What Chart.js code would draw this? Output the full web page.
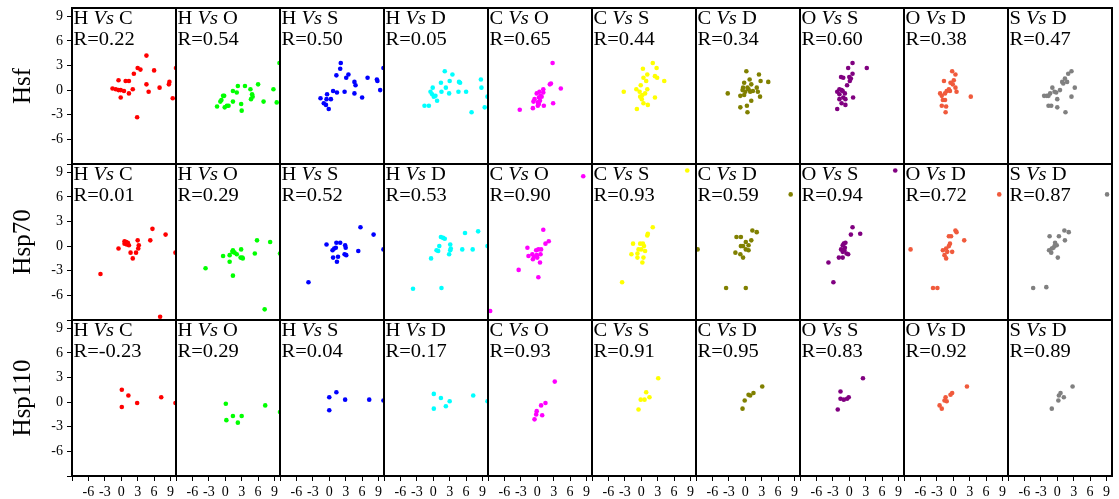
<!DOCTYPE html>
<html>
<head>
<meta charset="utf-8">
<title>Correlações Hsf / Hsp70 / Hsp110</title>
<script src="https://cdn.jsdelivr.net/npm/chart.js@4.4.0/dist/chart.umd.min.js"></script>
<style>
  html, body { margin: 0; padding: 0; background: #fff; }
  #fig { position: relative; width: 1119px; height: 499px; overflow: hidden; background: #fff; }
  #fig canvas { position: absolute; }
</style>
</head>
<body>
<div id="fig"></div>
<script>
// linhas e colunas
const rowLabels = ['Hsf', 'Hsp70', 'Hsp110'];
const pairs = [['H','C'], ['H','O'], ['H','S'], ['H','D'], ['C','O'], ['C','S'], ['C','D'], ['O','S'], ['O','D'], ['S','D']];
const colors = ['#ff0000', '#00ff00', '#0000ff', '#00ffff', '#ff00ff', '#ffff00', '#808000', '#800080', '#f05a3c', '#808080'];

// coeficientes R
const rHsf    = ['0.22', '0.54', '0.50', '0.05', '0.65', '0.44', '0.34', '0.60', '0.38', '0.47'];
const rHsp70  = ['0.01', '0.29', '0.52', '0.53', '0.90', '0.93', '0.59', '0.94', '0.72', '0.87'];
const rHsp110 = ['-0.23', '0.29', '0.04', '0.17', '0.93', '0.91', '0.95', '0.83', '0.92', '0.89'];

// Hsf
const hsf_HC = [[-1.6,0.2],[-1.0,0.1],[-0.5,0],[-0.1,0],[0.5,-0.1],[-0.1,-0.9],[-0.5,1.2],[0.8,1.1],[1.4,1.1],[1.4,-0.4],[2.1,0.1],[2.3,2.0],[3.0,2.7],[3.5,2.5],[4.6,4.2],[6.0,2.4],[4.6,0.7],[5.0,-0.2],[2.9,-3.3],[7.0,0.3],[8.7,0.7],[8.8,1.0],[9.4,-1.0],[10.0,2.7]];
const hsf_HO = [[-1.5,-2.0],[-0.9,-1.4],[-0.7,-1.2],[-0.4,-0.7],[-0.2,-0.7],[-0.1,-2.1],[0.3,-1.9],[0.6,-1.9],[1.4,-0.1],[1.4,-1.4],[2.1,-0.3],[2.3,0.5],[2.9,-1.7],[3.0,-2.5],[3.6,0.5],[4.6,0.1],[4.7,-1.1],[4.9,-0.5],[5.0,-0.8],[6.0,0.7],[7.0,-1.4],[8.8,0.1],[9.4,-1.5],[9.9,3.3]];
const hsf_HS = [[2.1,3.3],[2.0,2.6],[1.3,1.8],[3.1,1.5],[3.5,1.9],[4.6,1.0],[4.8,0.6],[2.8,-0.2],[1.4,-0.3],[0.7,-0.1],[-0.4,-0.5],[-1.6,-1.0],[-0.5,-1.1],[0.3,-1.1],[-1.0,-1.6],[-0.6,-1.8],[-0.1,-2.3],[4.6,-0.4],[6.0,-0.9],[7.0,1.5],[8.7,1.3],[8.8,1.1],[9.3,0],[9.9,2.7]];
const hsf_HD = [[2.1,2.3],[3.5,1.9],[1.4,0.9],[3.0,1.1],[2.3,0.3],[4.7,1.0],[4.9,0.9],[-0.1,0.3],[-0.5,-0.2],[-0.2,-0.5],[0.4,-0.7],[0.1,-0.8],[0.7,-1.3],[1.5,-0.2],[2.9,-0.4],[4.6,-0.2],[6.0,-0.2],[-1.6,-1.9],[-0.8,-1.9],[7.0,-2.7],[8.7,1.3],[8.8,0.3],[9.4,-2.1],[9.9,-0.8]];
const hsf_CO = [[2.8,3.3],[2.3,0.7],[2.5,0.8],[4.3,0.2],[2.9,-1.6],[1.2,-1.9],[-3.2,-2.4],[-0.8,-2.2],[0.1,-1.9],[0.3,-1.7],[0.5,-1.3],[0.8,-0.8],[1.1,-0.3],[1.1,0.1],[0.4,-0.2],[-0.1,-0.4],[-0.5,-1.1],[0.1,-1.5],[0.3,-0.9],[0.6,-0.7],[-0.7,-1.4]];
const hsf_CS = [[2.1,3.3],[0.3,2.6],[2.8,2.7],[1.1,1.9],[0.4,1.5],[2.5,1.7],[2.9,1.5],[0.9,1.1],[4.2,1.1],[-0.1,0.6],[-3.2,-0.2],[-0.9,0.1],[-0.3,-0.2],[1.1,0.1],[0.7,-0.4],[0.2,-0.6],[0.1,-1.1],[0.4,-1.6],[1.2,-1.8],[-0.8,-2.3],[2.5,-0.9],[-0.2,-0.8]];
const hsf_CD = [[0.2,2.3],[2.5,1.9],[2.8,1.1],[4.2,1.0],[0.8,1.3],[-0.2,0.9],[1.1,0.7],[-0.4,0.3],[0.4,0.3],[0.9,-0.2],[1.4,-0.1],[2.1,0.3],[2.3,-0.2],[0,-0.2],[-0.2,-0.6],[-0.9,-0.7],[2.7,-0.8],[-3.2,-0.4],[1.1,-1.3],[0.3,-1.9],[-0.9,-2.1],[0.4,-2.7],[0.6,0.1],[-0.5,0]];
const hsf_OS = [[0.6,3.3],[-0.2,2.7],[0.6,2.0],[0,1.6],[0.3,1.4],[-1.5,1.6],[-1.1,1.5],[0.1,1.1],[-0.4,0.6],[-1.8,0.1],[-1.4,0],[-1.2,-0.1],[-0.8,-0.4],[-2.2,-0.2],[-1.8,-0.5],[-1.1,-0.9],[-1.8,-1.1],[-0.7,-1.1],[-1.4,-1.6],[-0.7,-1.8],[-2.2,-2.3],[0.7,-0.9],[3.2,2.7]];
const hsf_OD = [[-0.2,2.3],[0.4,1.9],[-1.7,1.1],[-0.5,0.9],[0.1,1.2],[-0.1,0.7],[0.4,0.3],[0.6,-0.2],[-0.6,-0.1],[-1.2,-0.1],[-1.5,-0.4],[-2.4,-0.4],[-2.1,-0.7],[-1.9,-1.2],[-1.5,-1.2],[-2.1,-1.9],[-1.3,-2.0],[-1.4,-2.7],[3.2,-0.8],[-0.8,0.1]];
const hsf_SD = [[2.6,2.3],[2.0,2.0],[1.4,1.4],[0.9,1.0],[1.8,1.0],[1.1,0.8],[3.2,0.3],[2.6,-0.8],[-0.9,0.3],[-0.5,-0.2],[-1.3,-0.4],[-2.4,-0.7],[-1.6,-0.7],[-1.9,-0.7],[0,-1.1],[-1.6,-1.9],[-1.1,-1.9],[0,-2.1],[1.5,-2.7],[0.5,0],[-0.2,-0.3]];

// Hsp70
const hsp70_HC = [[-3.8,-3.4],[-0.5,-0.3],[0.6,0.6],[0.9,0.5],[1.2,0.4],[0.6,0.3],[1.0,0.2],[1.4,0.1],[1.7,-0.8],[2.1,-1.5],[2.7,-0.8],[3.0,0.7],[3.2,0.1],[3.1,-0.3],[5.3,0.7],[5.7,2.1],[8.1,1.4],[9.9,-0.8],[7.1,-8.6]];
const hsp70_HO = [[-3.6,-2.7],[-0.4,-1.2],[0.8,-1.1],[0.8,-1.9],[1.4,-0.5],[1.4,-3.6],[1.7,-0.8],[2.1,-1.0],[1.3,-0.7],[2.9,-0.4],[3.1,-1.4],[3.2,-1.5],[2.8,-1.4],[5.4,-0.9],[5.8,0.7],[8.2,0.5],[10.0,-0.9],[7.2,-7.7]];
const hsp70_HS = [[-3.8,-4.4],[-0.5,0.2],[1.3,0.4],[2.0,0.4],[0.9,-0.3],[0.6,-0.5],[1.2,-0.2],[2.9,0.1],[3.0,-0.2],[2.8,-1.0],[3.1,-1.1],[0.7,-1.4],[1.6,-1.3],[1.4,-1.9],[5.3,-0.6],[5.7,2.3],[8.1,1.4],[9.9,-0.4]];
const hsp70_HD = [[-3.7,-5.2],[1.5,-5.1],[-0.4,-1.5],[0.6,-0.5],[0.9,-0.6],[1.1,0],[1.4,1.1],[1.8,1.0],[2.1,0.9],[3.1,0.2],[3.2,-0.3],[2.9,-1.0],[3.1,-0.5],[5.3,-0.4],[5.8,1.6],[7.2,-0.4],[8.2,1.8],[9.9,0]];
const hsp70_CO = [[-8.6,-7.9],[8.4,8.5],[1.1,2.0],[2.1,0.6],[1.5,0.3],[-1.8,-0.2],[-1.6,-1.2],[-0.9,-1.0],[-0.2,-0.5],[0.2,-0.4],[0.7,-0.4],[-0.6,-1.3],[0,-1.4],[0.6,-1.0],[-0.1,-1.1],[0.5,-2.0],[-3.4,-2.9],[0.2,-3.8],[-0.8,-1.6]];
const hsp70_CS = [[8.4,9.2],[2.1,2.3],[1.2,1.5],[1.1,1.3],[-1.5,0.3],[-0.2,0.3],[0.3,0.3],[0.5,0],[-0.5,-0.4],[0,-0.4],[0.7,-0.6],[-0.7,-0.9],[-1.8,-1.0],[-0.7,-1.4],[0.4,-1.4],[0.2,-2.0],[-3.5,-4.4]];
const hsp70_CD = [[8.3,6.3],[-8.7,-0.4],[1.3,1.9],[2.1,1.7],[-1.6,1.1],[-0.8,1.1],[1.1,0.7],[0.1,0.5],[0.6,0.1],[-0.4,0],[-0.8,0],[0.1,-0.4],[0.6,-0.5],[-1.8,-0.8],[-0.9,-1.0],[-0.4,-1.4],[-3.5,-5.1],[0.1,-5.1]];
const hsp70_OS = [[8.4,9.2],[0.6,2.3],[0.3,1.4],[2.0,1.5],[-1.0,0.3],[-0.7,0.4],[-1.2,0.1],[-0.8,-0.2],[-1.5,-0.4],[-0.9,-0.5],[-1.2,-0.7],[-0.5,-0.9],[-1.9,-1.4],[-1.2,-1.4],[-0.2,-1.0],[-3.8,-2.0],[-2.9,-4.4]];
const hsp70_OD = [[8.4,6.3],[-7.8,-0.4],[0.4,1.9],[0.6,1.7],[-0.8,1.2],[-0.4,1.2],[2.0,0.7],[-0.6,0.3],[-0.8,0],[-1.3,-0.3],[-1.9,-0.5],[-1.1,-0.7],[-0.2,-0.7],[-1.6,-1.1],[-1.3,-1.5],[-3.7,-5.1],[-2.9,-5.1]];
const hsp70_SD = [[9.1,6.3],[-4.4,-5.1],[-2.0,-5.0],[1.3,1.9],[2.1,1.7],[-1.4,1.2],[0.3,1.2],[1.4,0.7],[-0.4,0.4],[-0.1,0.1],[-0.7,-0.2],[-1.5,-0.5],[-1.1,-0.8],[0.1,-1.4],[-1.0,-0.3],[-0.5,0]];

// Hsp110
const hsp110_HC = [[0.1,1.5],[1.3,0.8],[2.9,-0.1],[0.1,-0.6],[7.3,0.6],[9.9,-0.1]];
const hsp110_HO = [[0.1,-0.2],[0.2,-2.2],[1.4,-1.7],[2.3,-2.5],[3.0,-1.7],[7.3,-0.4],[10.0,-1.2]];
const hsp110_HS = [[0,0.6],[0,-1.0],[1.3,1.2],[2.9,0.3],[7.3,0.3],[9.9,0.2]];
const hsp110_HD = [[0.1,1.0],[0.1,-0.8],[1.4,0.5],[2.3,-0.5],[3.0,0.1],[7.3,0.8],[9.9,0.1]];
const hsp110_CO = [[3.2,2.5],[1.5,-0.1],[0.7,-0.4],[-0.1,-1.1],[-0.2,-1.5],[0.9,-1.6],[-0.5,-2.1]];
const hsp110_CS = [[3.1,2.9],[0.9,1.2],[-0.1,0.3],[0.6,0.3],[1.5,0.6],[-0.5,-0.9]];
const hsp110_CD = [[3.1,1.9],[1.5,1.1],[0.9,0.8],[0.6,0.9],[-0.1,0.2],[-0.5,-0.8]];
const hsp110_OS = [[2.5,2.9],[-1.6,1.3],[-1.6,0.4],[-1.0,0.3],[-0.4,0.4],[-0.1,0.6],[-2.1,-0.9]];
const hsp110_OD = [[2.5,1.9],[-0.2,1.1],[-0.5,0.9],[-1.4,0.6],[-1.6,0.2],[-1.2,0.1],[-2.5,-0.4],[-2.1,-0.8]];
const hsp110_SD = [[2.8,1.9],[0.6,1.1],[0.3,0.8],[1.2,0.6],[0.2,0.2],[-1.0,-0.8]];

const rowPoints = [
  [hsf_HC, hsf_HO, hsf_HS, hsf_HD, hsf_CO, hsf_CS, hsf_CD, hsf_OS, hsf_OD, hsf_SD],
  [hsp70_HC, hsp70_HO, hsp70_HS, hsp70_HD, hsp70_CO, hsp70_CS, hsp70_CD, hsp70_OS, hsp70_OD, hsp70_SD],
  [hsp110_HC, hsp110_HO, hsp110_HS, hsp110_HD, hsp110_CO, hsp110_CS, hsp110_CD, hsp110_OS, hsp110_OD, hsp110_SD]
];
const rowR = [rHsf, rHsp70, rHsp110];

// layout
const FONT = 'Liberation Serif, Times New Roman, serif';
const PW = 104, PH = 156, X0 = 72, Y0 = 8, M = 2, BOTTOM = 499;

Chart.defaults.font.family = FONT;
Chart.defaults.color = '#000';

// moldura do painel + título "A Vs B / R=..."
const painelPlugin = {
  id: 'painel',
  afterDraw(chart, args, opts) {
    const ctx = chart.ctx, a = chart.chartArea;
    ctx.save();
    ctx.strokeStyle = '#000';
    ctx.lineWidth = 2;
    ctx.strokeRect(a.left, a.top, a.right - a.left, a.bottom - a.top);
    ctx.fillStyle = '#000';
    ctx.textBaseline = 'alphabetic';
    ctx.translate(a.left + 1.5, a.top + 15.5);
    ctx.scale(1.14, 1);
    let x = 0;
    [[opts.a + ' ', 'normal'], ['Vs', 'italic'], [' ' + opts.b, 'normal']].forEach(([t, st]) => {
      ctx.font = st + ' 18px ' + FONT;
      ctx.fillText(t, x, 0);
      x += ctx.measureText(t).width;
    });
    ctx.font = 'normal 18px ' + FONT;
    ctx.fillText('R=' + opts.r, 0, 21);
    ctx.restore();
  }
};

const fig = document.getElementById('fig');

function criarPainel(r, c) {
  const left = X0 + c * PW, top = Y0 + r * PH;
  const primeiraColuna = c === 0;
  const ultimaLinha = r === rowLabels.length - 1;
  const cx = primeiraColuna ? 0 : left - M;
  const cy = top - M;
  const cw = left + PW + M - cx;
  const ch = (ultimaLinha ? BOTTOM : top + PH + M) - cy;

  const canvas = document.createElement('canvas');
  canvas.width = cw; canvas.height = ch;
  canvas.style.left = cx + 'px'; canvas.style.top = cy + 'px';
  canvas.style.width = cw + 'px'; canvas.style.height = ch + 'px';
  fig.appendChild(canvas);

  const tickOpts = {
    stepSize: 3,
    includeBounds: false,
    autoSkip: false,
    maxRotation: 0,
    color: '#000',
    font: { family: FONT, size: 14 },
    callback: v => (v === -9 ? '' : String(v))
  };
  const gridOpts = { drawOnChartArea: false, drawTicks: true, tickLength: 5, color: '#000', lineWidth: 1 };

  new Chart(canvas, {
    type: 'scatter',
    data: {
      datasets: [{
        data: rowPoints[r][c].map(p => ({ x: p[0], y: p[1] })),
        backgroundColor: colors[c],
        borderWidth: 0,
        pointRadius: 2.3,
        pointHoverRadius: 2.3,
        clip: 0
      }]
    },
    options: {
      responsive: false,
      animation: false,
      events: [],
      layout: {
        autoPadding: false,
        padding: { left: primeiraColuna ? 0 : M, top: M, right: M, bottom: ultimaLinha ? 0 : M }
      },
      scales: {
        x: {
          type: 'linear', min: -9, max: 10,
          display: ultimaLinha,
          afterFit: ultimaLinha ? s => {
            s.height = BOTTOM - (top + PH);
            s.paddingLeft = s.paddingRight = 0;
          } : undefined,
          ticks: Object.assign({}, tickOpts, { padding: 3 }),
          grid: gridOpts,
          border: { display: true, color: '#000', width: 2 }
        },
        y: {
          type: 'linear', min: -9, max: 10,
          display: primeiraColuna,
          afterFit: primeiraColuna ? s => {
            s.width = X0;
            s.paddingTop = s.paddingBottom = 0;
          } : undefined,
          ticks: Object.assign({}, tickOpts, { padding: 4 }),
          grid: gridOpts,
          border: { display: true, color: '#000', width: 2 },
          title: {
            display: primeiraColuna,
            text: rowLabels[r],
            color: '#000',
            font: { family: FONT, size: 25 },
            padding: { top: 8, bottom: 0 }
          }
        }
      },
      plugins: {
        legend: { display: false },
        tooltip: { enabled: false },
        painel: { a: pairs[c][0], b: pairs[c][1], r: rowR[r][c] }
      }
    },
    plugins: [painelPlugin]
  });
}

rowLabels.forEach((_, r) => pairs.forEach((_, c) => criarPainel(r, c)));
</script>
</body>
</html>
